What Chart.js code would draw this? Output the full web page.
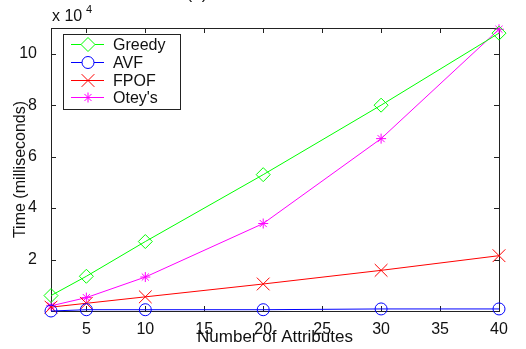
<!DOCTYPE html>
<html>
<head>
<meta charset="utf-8">
<script src="https://cdn.jsdelivr.net/npm/chart.js@4.4.1/dist/chart.umd.min.js"></script>
<style>
  html, body { margin: 0; padding: 0; background: #fff; }
  canvas { display: block; }
</style>
</head>
<body>
<canvas id="chart" width="526" height="349"></canvas>
<script>
// number of attributes (x) and run time in units of 10^4 ms (y)
const attributes = [2, 5, 10, 20, 30, 40];
const greedy = [0.6, 1.35, 2.7, 5.3, 8.0, 10.8];
const avf = [0.0, 0.05, 0.05, 0.05, 0.08, 0.08];
const fpof = [0.15, 0.3, 0.55, 1.05, 1.58, 2.15];
const oteys = [0.2, 0.52, 1.32, 3.4, 6.7, 10.95];

const xTicks = [5, 10, 15, 20, 25, 30, 35, 40];
const yTicks = [2, 4, 6, 8, 10];

const FONT = "'Liberation Sans', Arial, sans-serif";

function toPoints(vals) {
    return attributes.map((x, i) => ({ x, y: vals[i] }));
}

function series(label, vals, color, pointStyle, radius) {
    return {
        label,
        data: toPoints(vals),
        borderColor: color,
        backgroundColor: 'rgba(0,0,0,0)',
        borderWidth: 1,
        pointStyle,
        pointRadius: radius,
        pointBorderColor: color,
        pointBorderWidth: 1,
        pointBackgroundColor: 'rgba(0,0,0,0)',
        tension: 0,
        clip: false,
    };
}

// box around the plot with inward ticks on all four sides
const framePlugin = {
    id: 'frame',
    beforeDatasetsDraw(chart) {
        const { ctx, chartArea: a, scales } = chart;
        ctx.save();
        ctx.strokeStyle = '#222';
        ctx.lineWidth = 1;
        ctx.strokeRect(a.left + 0.5, a.top + 0.5, a.right - a.left, a.bottom - a.top);
        ctx.beginPath();
        scales.x.ticks.forEach((t) => {
            const px = Math.round(scales.x.getPixelForValue(t.value)) + 0.5;
            ctx.moveTo(px, a.bottom);
            ctx.lineTo(px, a.bottom - 5);
            ctx.moveTo(px, a.top);
            ctx.lineTo(px, a.top + 5);
        });
        scales.y.ticks.forEach((t) => {
            const py = Math.round(scales.y.getPixelForValue(t.value)) + 0.5;
            ctx.moveTo(a.left, py);
            ctx.lineTo(a.left + 5, py);
            ctx.moveTo(a.right, py);
            ctx.lineTo(a.right - 5, py);
        });
        ctx.stroke();

        // exponent label and the clipped panel title
        ctx.fillStyle = '#111';
        ctx.textBaseline = 'alphabetic';
        ctx.textAlign = 'left';
        ctx.font = '16px ' + FONT;
        ctx.fillText('x 10', a.left + 1, 21);
        ctx.font = '11px ' + FONT;
        ctx.fillText('4', a.left + 35, 13);
        ctx.font = '17px ' + FONT;
        ctx.textAlign = 'center';
        ctx.fillText('(a)', 197, -1);
        ctx.restore();
    },
    afterDraw(chart) {
        const { ctx } = chart;
        const bx = 63, by = 34, bw = 117, bh = 75;
        ctx.save();
        ctx.fillStyle = '#fff';
        ctx.fillRect(bx, by, bw, bh);
        ctx.strokeStyle = '#222';
        ctx.lineWidth = 1;
        ctx.strokeRect(bx + 0.5, by + 0.5, bw, bh);
        ctx.font = '16px ' + FONT;
        ctx.textBaseline = 'middle';
        ctx.textAlign = 'left';
        chart.data.datasets.forEach((ds, i) => {
            const y = Math.round(44 + i * 17.8) + 0.5;
            ctx.strokeStyle = ds.borderColor;
            ctx.beginPath();
            ctx.moveTo(71, y);
            ctx.lineTo(104, y);
            ctx.stroke();
            ctx.fillStyle = '#fff';
            Chart.helpers.drawPoint(ctx, {
                pointStyle: ds.pointStyle,
                radius: ds.pointRadius,
                rotation: 0,
                borderWidth: 1,
            }, 88, y);
            ctx.fillStyle = '#111';
            ctx.fillText(ds.label, 113, y + 1);
        });
        ctx.restore();
    },
};

new Chart(document.getElementById('chart'), {
    type: 'line',
    data: {
        datasets: [
            series('Greedy', greedy, '#00ff00', 'rectRot', 7),
            series('AVF', avf, '#0000ff', 'circle', 6),
            series('FPOF', fpof, '#ff0000', 'crossRot', 9),
            series("Otey's", oteys, '#ff00ff', 'star', 5),
        ],
    },
    options: {
        responsive: false,
        animation: false,
        layout: { padding: { left: 0, top: 28, right: 27, bottom: 0 } },
        plugins: {
            legend: { display: false },
            tooltip: { enabled: false },
        },
        scales: {
            x: {
                type: 'linear',
                min: 2,
                max: 40,
                grid: { display: false },
                border: { display: false },
                afterBuildTicks: (s) => { s.ticks = xTicks.map((v) => ({ value: v })); },
                afterFit: (s) => { s.height = 38; },
                ticks: {
                    color: '#111',
                    padding: 1,
                    font: { family: FONT, size: 16 },
                },
                title: {
                    display: true,
                    text: 'Number of Attributes',
                    color: '#111',
                    font: { family: FONT, size: 17 },
                    padding: { top: 0, bottom: 1 },
                },
            },
            y: {
                type: 'linear',
                min: 0,
                max: 11,
                grid: { display: false },
                border: { display: false },
                afterBuildTicks: (s) => { s.ticks = yTicks.map((v) => ({ value: v })); },
                afterFit: (s) => { s.width = 51; },
                ticks: {
                    color: '#111',
                    padding: 6,
                    font: { family: FONT, size: 16 },
                },
                title: {
                    display: true,
                    text: 'Time (milliseconds)',
                    color: '#111',
                    font: { family: FONT, size: 16 },
                    padding: { top: 11, bottom: 0 },
                },
            },
        },
    },
    plugins: [framePlugin],
});
</script>
</body>
</html>
